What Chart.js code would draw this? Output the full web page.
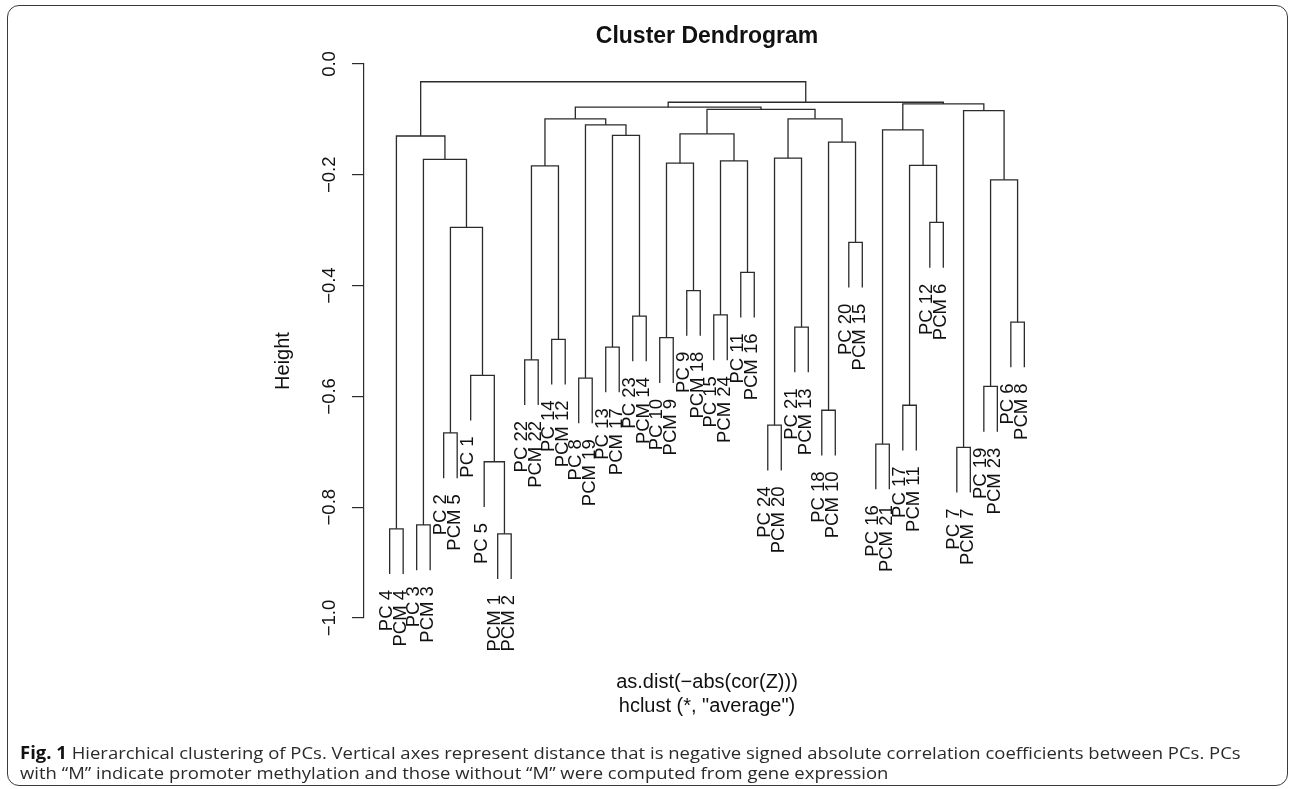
<!DOCTYPE html>
<html lang="en">
<head>
<meta charset="UTF-8" />
<title>Cluster Dendrogram</title>
<script src="https://cdn.jsdelivr.net/npm/chart.js"></script>
<style>
  html, body { margin: 0; padding: 0; background: #fff; }
  body { width: 1295px; height: 789px; position: relative; overflow: hidden; }
  #frame {
    position: absolute; left: 7px; top: 5px; width: 1281px; height: 781px;
    border: 1.5px solid #3a3a3a; border-radius: 12px; box-sizing: border-box;
  }
  #chart { position: absolute; left: 0; top: 0; }
  .cap {
    position: absolute; left: 20px; white-space: nowrap; transform-origin: 0 50%;
    font-family: "Liberation Sans Narrow", "Open Sans", sans-serif; font-size: 17px; color: #2a2a2a;
  }
  .cap b { color: #111; }
</style>
</head>
<body>
<div id="frame"></div>
<canvas id="chart" width="1295" height="789"></canvas>
<div class="cap" id="cap1" style="top:741px"><b>Fig. 1</b> Hierarchical clustering of PCs. Vertical axes represent distance that is negative signed absolute correlation coefficients between PCs. PCs</div>
<div class="cap" id="cap2" style="top:761px">with “M” indicate promoter methylation and those without “M” were computed from gene expression</div>

<script>
  // leaves in plotted order (left to right)
  const leafLabels = [
    'PC 4', 'PCM 4', 'PC 3', 'PCM 3', 'PC 2', 'PCM 5', 'PC 1', 'PC 5', 'PCM 1', 'PCM 2',
    'PC 22', 'PCM 22', 'PC 14', 'PCM 12', 'PC 8', 'PCM 19', 'PC 13', 'PCM 17', 'PC 23', 'PCM 14',
    'PC 10', 'PCM 9', 'PC 9', 'PCM 18', 'PC 15', 'PCM 24', 'PC 11', 'PCM 16', 'PC 24', 'PCM 20',
    'PC 21', 'PCM 13', 'PC 18', 'PCM 10', 'PC 20', 'PCM 15', 'PC 16', 'PCM 21', 'PC 17', 'PCM 11',
    'PC 12', 'PCM 6', 'PC 7', 'PCM 7', 'PC 19', 'PCM 23', 'PC 6', 'PCM 8'
  ];

  // hclust style merges: negative = leaf position (1-based), positive = earlier merge row
  const mergePairs = [
    [-9, -10], [-1, -2], [-3, -4], [-8, 1], [-43, -44], [-37, -38], [-5, -6], [-29, -30],
    [-33, -34], [-39, -40], [-45, -46], [-15, -16], [-7, 4], [-11, -12], [-17, -18], [-13, -14],
    [-21, -22], [-31, -32], [-47, -48], [-19, -20], [-25, -26], [-23, -24], [-27, -28], [-35, -36],
    [7, 13], [-41, -42], [11, 19], [14, 16], [10, 26], [17, 22], [21, 23], [3, 25],
    [8, 18], [9, 24], [2, 32], [15, 20], [30, 31], [6, 29], [12, 36], [28, 39],
    [33, 34], [5, 27], [37, 41], [40, 43], [38, 42], [44, 45], [35, 46]
  ];
  const mergeHeights = [
    -0.848, -0.839, -0.832, -0.718, -0.692, -0.686, -0.666, -0.652,
    -0.625, -0.616, -0.582, -0.567, -0.562, -0.534, -0.511, -0.497,
    -0.494, -0.475, -0.466, -0.455, -0.453, -0.409, -0.376, -0.322,
    -0.295, -0.286, -0.209, -0.184, -0.183, -0.179, -0.175, -0.172,
    -0.170, -0.141, -0.130, -0.129, -0.126, -0.119, -0.110, -0.099,
    -0.099, -0.084, -0.082, -0.078, -0.072, -0.069, -0.032
  ];

  const yTicks = [0, -0.2, -0.4, -0.6, -0.8, -1.0];

  const LINE = '#2b2b2b';
  const FONT = '"Liberation Sans", Arial, Helvetica, sans-serif';

  // leaves hang 0.1 of the height range below their merge, as plot.hclust does
  const hang = 0.1 * (Math.max(...mergeHeights) - Math.min(...mergeHeights));
  const leafBottom = [];
  const nodeX = [];

  function childEnd(c, h) {
    if (c < 0) {
      leafBottom[-c - 1] = h - hang;
      return { x: -c, y: h - hang };
    }
    return { x: nodeX[c - 1], y: mergeHeights[c - 1] };
  }

  const datasets = mergePairs.map(([a, b], k) => {
    const h = mergeHeights[k];
    const pa = childEnd(a, h);
    const pb = childEnd(b, h);
    nodeX[k] = (pa.x + pb.x) / 2;
    return {
      data: [pa, { x: pa.x, y: h }, { x: pb.x, y: h }, pb],
      showLine: true,
      borderColor: LINE,
      borderWidth: 1.3,
      pointRadius: 0,
      tension: 0,
      clip: false
    };
  });

  const fmt = v => (v < 0 ? '\u2212' : '') + Math.abs(v).toFixed(1);

  const textPlugin = {
    id: 'dendroText',
    afterDraw(chart) {
      const { ctx, chartArea: area, scales: { x, y } } = chart;
      const cx = (area.left + area.right) / 2;
      ctx.save();
      ctx.fillStyle = '#111';

      // leaf labels, rotated, hanging under each leaf
      ctx.font = '18.5px ' + FONT;
      ctx.textAlign = 'right';
      ctx.textBaseline = 'middle';
      leafLabels.forEach((lab, i) => {
        const px = x.getPixelForValue(i + 1) - 2.5;
        const py = y.getPixelForValue(leafBottom[i]) + 16;
        ctx.save();
        ctx.translate(px, py);
        ctx.rotate(-Math.PI / 2);
        ctx.fillText(lab, 0, 0);
        ctx.restore();
      });

      // title
      ctx.font = 'bold 23px ' + FONT;
      ctx.textAlign = 'center';
      ctx.textBaseline = 'alphabetic';
      ctx.fillText('Cluster Dendrogram', cx, area.top - 21.5);

      // x axis notes
      ctx.font = '20px ' + FONT;
      ctx.textBaseline = 'middle';
      ctx.fillText('as.dist(\u2212abs(cor(Z)))', cx, area.bottom + 64);
      ctx.fillText('hclust (*, "average")', cx, area.bottom + 88);

      // y axis title
      ctx.save();
      ctx.translate(area.left - 81, 361);
      ctx.rotate(-Math.PI / 2);
      ctx.fillText('Height', 0, 0);
      ctx.restore();

      ctx.restore();
    }
  };

  Chart.defaults.font.family = FONT;
  Chart.defaults.color = '#111';

  new Chart(document.getElementById('chart').getContext('2d'), {
    type: 'scatter',
    data: { datasets },
    options: {
      responsive: false,
      animation: false,
      events: [],
      layout: { padding: { left: 271, right: 245, top: 64, bottom: 171 } },
      plugins: { legend: { display: false }, tooltip: { enabled: false } },
      scales: {
        x: { type: 'linear', min: -0.9, max: 49.9, display: false },
        y: {
          type: 'linear',
          min: -1,
          max: 0,
          afterFit(scale) { scale.width = 93; },
          afterBuildTicks(scale) { scale.ticks = yTicks.map(v => ({ value: v })); },
          border: { display: true, color: LINE, width: 1.2 },
          grid: { drawOnChartArea: false, drawTicks: true, tickLength: 12, color: LINE, lineWidth: 1.2 },
          ticks: {
            minRotation: 90, maxRotation: 90, crossAlign: 'center', padding: 4,
            color: '#111', font: { size: 18.5 },
            callback: v => fmt(v)
          }
        }
      }
    },
    plugins: [textPlugin]
  });

  // squeeze the caption lines to the measured line length of the figure text
  const cap1 = document.getElementById('cap1');
  const cap2 = document.getElementById('cap2');
  const s = 1221 / cap1.scrollWidth;
  cap1.style.transform = 'scaleX(' + s + ')';
  cap2.style.transform = 'scaleX(' + s + ')';
</script>
</body>
</html>
